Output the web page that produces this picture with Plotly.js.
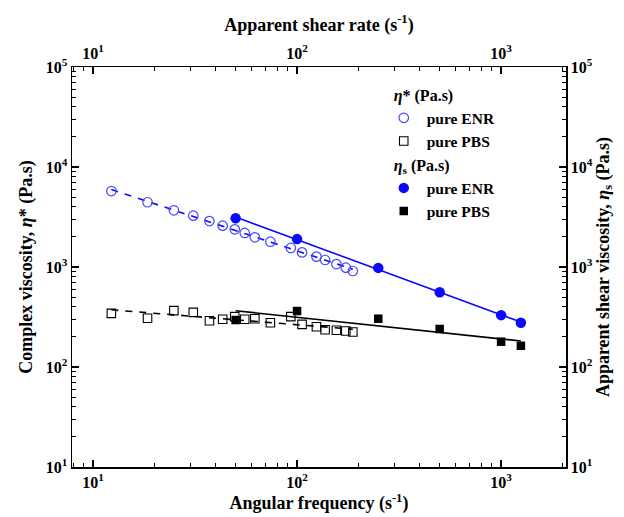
<!DOCTYPE html>
<html>
<head>
<meta charset="utf-8">
<script src="https://cdn.plot.ly/plotly-3.0.1.min.js"></script>
<style>html,body{margin:0;padding:0;background:#fff}#chart{width:624px;height:517px}</style>
</head>
<body>
<div id="chart"></div>
<script>
// Angular frequency (s^-1) for the oscillatory data (eta*)
const omega = [12.3, 18.5, 24.9, 31.0, 37.2, 43.2, 49.5, 55.4, 62.1, 74.0, 93.2, 105.8, 124.4, 137.2, 155.9, 173.3, 187.6];
// Complex viscosity eta* (Pa.s)
const etaStarENR = [5750, 4440, 3690, 3260, 2880, 2590, 2380, 2190, 1980, 1790, 1550, 1400, 1270, 1175, 1070, 985, 912];
const etaStarPBS = [344, 307, 366, 352, 290, 300, 319, 300, 304, 277, 319, 267, 253, 236, 233, 229, 224];
// Apparent shear rate (s^-1) for the capillary data (eta_s)
const shearRate = [50, 100, 250, 500, 1000, 1250];
// Apparent shear viscosity eta_s (Pa.s)
const etaSENR = [3070, 1900, 980, 560, 330, 277];
const etaSPBS = [295, 363, 304, 240, 179, 163];
// tick labels
const xTickVals = [10, 100, 1000];
const xTickText = ['10<sup>1</sup>', '10<sup>2</sup>', '10<sup>3</sup>'];
const yTickVals = [10, 100, 1000, 10000, 100000];
const yTickText = ['10<sup>1</sup>', '10<sup>2</sup>', '10<sup>3</sup>', '10<sup>4</sup>', '10<sup>5</sup>'];

// power-law (log-log least squares) fit evaluated at data extremes
function powerFit(xs, ys) {
  const lx = xs.map(Math.log10), ly = ys.map(Math.log10);
  const n = lx.length;
  const mx = lx.reduce((a, b) => a + b, 0) / n, my = ly.reduce((a, b) => a + b, 0) / n;
  let sxy = 0, sxx = 0;
  for (let i = 0; i < n; i++) { sxy += (lx[i] - mx) * (ly[i] - my); sxx += (lx[i] - mx) ** 2; }
  const k = sxy / sxx, c = my - k * mx;
  const x0 = Math.min(...xs), x1 = Math.max(...xs);
  return { x: [x0, x1], y: [Math.pow(10, c + k * Math.log10(x0)), Math.pow(10, c + k * Math.log10(x1))] };
}

const FONT = 'Liberation Serif, Times New Roman, serif';
const BLUE = '#0a0aff';
const OPENBLUE = '#4545ff';

const f1 = powerFit(omega, etaStarENR);
const f2 = powerFit(omega, etaStarPBS);
const f3 = powerFit(shearRate, etaSENR);
const f4 = powerFit(shearRate, etaSPBS);

const legTitleFont = { family: FONT, size: 16, color: '#000', weight: 'bold' };

const data = [
  { x: f1.x, y: f1.y, mode: 'lines', line: { color: BLUE, width: 1.6, dash: '7px,7px' }, showlegend: false, hoverinfo: 'skip' },
  { x: f2.x, y: f2.y, mode: 'lines', line: { color: '#000', width: 1.6, dash: '7px,7px' }, showlegend: false, hoverinfo: 'skip' },
  { x: f3.x, y: f3.y, xaxis: 'x2', yaxis: 'y2', mode: 'lines', line: { color: BLUE, width: 1.6 }, showlegend: false, hoverinfo: 'skip' },
  { x: f4.x, y: f4.y, xaxis: 'x2', yaxis: 'y2', mode: 'lines', line: { color: '#000', width: 1.6 }, showlegend: false, hoverinfo: 'skip' },
  { x: omega, y: etaStarENR, mode: 'markers', name: 'pure ENR', legendgroup: 'g1', legendrank: 1,
    legendgrouptitle: { text: '\u00a0\u00a0<i>η</i>* (Pa.s)', font: legTitleFont },
    marker: { symbol: 'circle-open', size: 9.5, color: OPENBLUE, line: { width: 1.2 } } },
  { x: omega, y: etaStarPBS, mode: 'markers', name: 'pure PBS', legendgroup: 'g1', legendrank: 2,
    marker: { symbol: 'square-open', size: 8.5, color: '#000', line: { width: 1.1 } } },
  { x: shearRate, y: etaSENR, xaxis: 'x2', yaxis: 'y2', mode: 'markers', name: 'pure ENR', legendgroup: 'g2', legendrank: 3,
    legendgrouptitle: { text: '\u00a0\u00a0<i>η</i><sub>s</sub> (Pa.s)', font: legTitleFont },
    marker: { symbol: 'circle', size: 10.5, color: BLUE } },
  { x: shearRate, y: etaSPBS, xaxis: 'x2', yaxis: 'y2', mode: 'markers', name: 'pure PBS', legendgroup: 'g2', legendrank: 4,
    marker: { symbol: 'square', size: 8.5, color: '#000' } }
];

const xr = [0.897, 3.318];
const yr = [1, 5];
const tickFont = { family: FONT, size: 16, color: '#000', weight: 'bold' };
const titleFont = { family: FONT, size: 18, color: '#000', weight: 'bold' };
const common = {
  type: 'log', showgrid: false, zeroline: false, showline: true, linecolor: '#000', linewidth: 1.5,
  ticks: 'inside', ticklen: 7, tickwidth: 1.3, tickcolor: '#000', tickfont: tickFont,
  minor: { ticks: 'inside', ticklen: 4, tickwidth: 1.1, tickcolor: '#000', dtick: 'D1', showgrid: false }
};

const layout = {
  width: 624, height: 517,
  margin: { l: 72, r: 58, t: 67, b: 50 },
  paper_bgcolor: '#fff', plot_bgcolor: '#fff',
  showlegend: true,
  legend: {
    x: 0.625, y: 0.974, xanchor: 'left', yanchor: 'top', bgcolor: 'rgba(0,0,0,0)',
    font: { family: FONT, size: 15.5, color: '#000', weight: 'bold' },
    tracegroupgap: 0, itemwidth: 36, traceorder: 'grouped'
  },
  xaxis: Object.assign({}, common, {
    range: xr, tickvals: xTickVals, ticktext: xTickText,
    title: { text: 'Angular frequency (s<sup>-1</sup>)', font: titleFont, standoff: 4 }
  }),
  xaxis2: Object.assign({}, common, {
    range: xr, overlaying: 'x', side: 'top', anchor: 'y', tickvals: xTickVals, ticktext: xTickText,
    title: { text: 'Apparent shear rate (s<sup>-1</sup>)', font: titleFont, standoff: 6 }
  }),
  yaxis: Object.assign({}, common, {
    range: yr, tickvals: yTickVals, ticktext: yTickText,
    title: { text: 'Complex viscosity, <i>η</i>* (Pa.s)', font: titleFont, standoff: 8 }
  }),
  yaxis2: Object.assign({}, common, {
    range: yr, overlaying: 'y', side: 'right', anchor: 'x', tickvals: yTickVals, ticktext: yTickText,
    title: { text: 'Apparent shear viscosity, <i>η</i><sub>s</sub> (Pa.s)', font: titleFont, standoff: 3 }
  })
};

Plotly.newPlot('chart', data, layout, { displayModeBar: false, staticPlot: true });
</script>
</body>
</html>
